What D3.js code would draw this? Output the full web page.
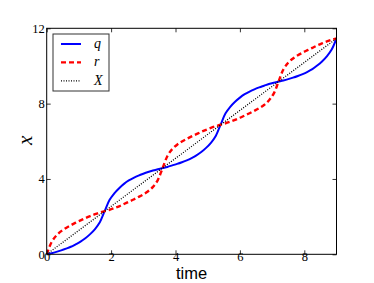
<!DOCTYPE html>
<html>
<head>
<meta charset="utf-8">
<script src="https://cdn.jsdelivr.net/npm/d3@7"></script>
<style>
  body { margin: 0; background: #fff; }
  svg { display: block; }
</style>
</head>
<body>
<svg id="chart"></svg>
<script>
// time samples (x axis)
var times = [0, 0.15, 0.3, 0.45, 0.6, 0.75, 0.9, 1.05, 1.2, 1.35, 1.5, 1.65, 1.8,
  1.95, 2.1, 2.25, 2.4, 2.55, 2.7, 2.85, 3.0, 3.15, 3.3, 3.45, 3.6,
  3.75, 3.9, 4.05, 4.2, 4.35, 4.5, 4.65, 4.8, 4.95, 5.1, 5.25, 5.4,
  5.55, 5.7, 5.85, 6.0, 6.15, 6.3, 6.45, 6.6, 6.75, 6.9, 7.05, 7.2,
  7.35, 7.5, 7.65, 7.8, 7.95, 8.1, 8.25, 8.4, 8.55, 8.7, 8.85, 9.0];

// q (blue, solid)
var qVals = [0, 0.06, 0.13, 0.21, 0.30, 0.40, 0.53, 0.67, 0.85, 1.07, 1.34, 1.70, 2.29,
  2.88, 3.24, 3.51, 3.74, 3.92, 4.06, 4.18, 4.28, 4.37, 4.45, 4.52, 4.58,
  4.64, 4.72, 4.80, 4.89, 4.99, 5.11, 5.25, 5.43, 5.65, 5.92, 6.28, 6.88,
  7.47, 7.83, 8.10, 8.32, 8.50, 8.64, 8.76, 8.86, 8.95, 9.04, 9.11, 9.17,
  9.23, 9.30, 9.38, 9.47, 9.57, 9.69, 9.83, 10.02, 10.24, 10.51, 10.87, 11.46];

// r (red, dashed)
var rVals = [0, 0.64, 1.00, 1.23, 1.40, 1.54, 1.68, 1.80, 1.92, 2.03, 2.13, 2.22, 2.29,
  2.36, 2.45, 2.55, 2.67, 2.79, 2.91, 3.04, 3.18, 3.35, 3.58, 3.94, 4.58,
  5.22, 5.59, 5.82, 5.99, 6.13, 6.26, 6.38, 6.50, 6.61, 6.71, 6.80, 6.88,
  6.95, 7.04, 7.14, 7.25, 7.37, 7.49, 7.62, 7.76, 7.93, 8.17, 8.53, 9.17,
  9.81, 10.17, 10.40, 10.57, 10.71, 10.84, 10.96, 11.09, 11.20, 11.30, 11.39, 11.46];

// X (black, dotted) - straight line
var xLineTimes = [0, 9];
var xLineVals = [0, 11.46];

var xTicks = [0, 2, 4, 6, 8];
var yTicks = [0, 4, 8, 12];

var width = 374, height = 283;
var margin = { left: 46.7, right: 37.5, top: 28.3, bottom: 28.7 };

var svg = d3.select("#chart")
  .attr("width", width)
  .attr("height", height);

var x = d3.scaleLinear().domain([0, 9]).range([margin.left, width - margin.right]);
var y = d3.scaleLinear().domain([0, 12]).range([height - margin.bottom, margin.top]);

svg.append("defs").append("clipPath").attr("id", "clip")
  .append("rect")
  .attr("x", x(0)).attr("y", y(12))
  .attr("width", x(9) - x(0)).attr("height", y(0) - y(12));

var line = d3.line()
  .x(d => x(d[0]))
  .y(d => y(d[1]))
  .curve(d3.curveCatmullRom.alpha(0.5));

var plot = svg.append("g").attr("clip-path", "url(#clip)");

plot.append("path")
  .datum(times.map((t, i) => [t, qVals[i]]))
  .attr("fill", "none")
  .attr("stroke", "#0000ff")
  .attr("stroke-width", 2)
  .attr("d", line);

plot.append("path")
  .datum(times.map((t, i) => [t, rVals[i]]))
  .attr("fill", "none")
  .attr("stroke", "#ff0000")
  .attr("stroke-width", 2.4)
  .attr("stroke-dasharray", "5,3")
  .attr("d", line);

plot.append("path")
  .datum(xLineTimes.map((t, i) => [t, xLineVals[i]]))
  .attr("fill", "none")
  .attr("stroke", "#000")
  .attr("stroke-width", 1.3)
  .attr("stroke-dasharray", "1,1.5")
  .attr("d", d3.line().x(d => x(d[0])).y(d => y(d[1])));

// axes: ticks point inwards on all four sides
var tickFont = "'Liberation Serif', 'DejaVu Serif', serif";

function styleAxis(g) {
  g.select(".domain").remove();
  g.selectAll("line").attr("stroke", "#000").attr("stroke-width", 0.8);
  g.selectAll("text").attr("font-family", tickFont).attr("font-size", 12.5).attr("fill", "#000");
}

svg.append("g")
  .attr("transform", "translate(0," + y(0) + ")")
  .call(d3.axisBottom(x).tickValues(xTicks).tickSize(-4).tickPadding(-2).tickFormat(d3.format("d")))
  .call(styleAxis);

svg.append("g")
  .attr("transform", "translate(0," + y(12) + ")")
  .call(d3.axisTop(x).tickValues(xTicks).tickSize(-4).tickFormat(""))
  .call(styleAxis);

svg.append("g")
  .attr("transform", "translate(" + x(0) + ",0)")
  .call(d3.axisLeft(y).tickValues(yTicks).tickSize(-4).tickPadding(2).tickFormat(d3.format("d")))
  .call(styleAxis);

svg.append("g")
  .attr("transform", "translate(" + x(9) + ",0)")
  .call(d3.axisRight(y).tickValues(yTicks).tickSize(-4).tickFormat(""))
  .call(styleAxis);

svg.append("rect")
  .attr("x", x(0)).attr("y", y(12))
  .attr("width", x(9) - x(0)).attr("height", y(0) - y(12))
  .attr("fill", "none")
  .attr("stroke", "#000")
  .attr("stroke-width", 1);

// axis labels
svg.append("text")
  .attr("x", (x(0) + x(9)) / 2)
  .attr("y", 279.3)
  .attr("text-anchor", "middle")
  .attr("font-family", "'Liberation Sans', Arial, sans-serif")
  .attr("font-size", 16.5)
  .text("time");

svg.append("text")
  .attr("transform", "translate(32," + (y(6) - 1) + ") rotate(-90)")
  .attr("text-anchor", "middle")
  .attr("font-family", tickFont)
  .attr("font-style", "italic")
  .attr("font-size", 21)
  .text("x");

// legend
var legendItems = [
  { name: "q", color: "#0000ff", width: 2, dash: null },
  { name: "r", color: "#ff0000", width: 2.4, dash: "5,3" },
  { name: "X", color: "#000", width: 1.3, dash: "1,1.5" }
];

var legend = svg.append("g");
legend.append("rect")
  .attr("x", 53).attr("y", 34)
  .attr("width", 56).attr("height", 57)
  .attr("fill", "#fff")
  .attr("stroke", "#333")
  .attr("stroke-width", 1);

legendItems.forEach(function (d, i) {
  var ly = 44 + i * 18.4;
  legend.append("line")
    .attr("x1", 61).attr("x2", 81)
    .attr("y1", ly).attr("y2", ly)
    .attr("stroke", d.color)
    .attr("stroke-width", d.width)
    .attr("stroke-dasharray", d.dash);
  legend.append("text")
    .attr("x", 94).attr("y", ly + 4)
    .attr("font-family", tickFont)
    .attr("font-style", "italic")
    .attr("font-size", 14)
    .text(d.name);
});
</script>
</body>
</html>
